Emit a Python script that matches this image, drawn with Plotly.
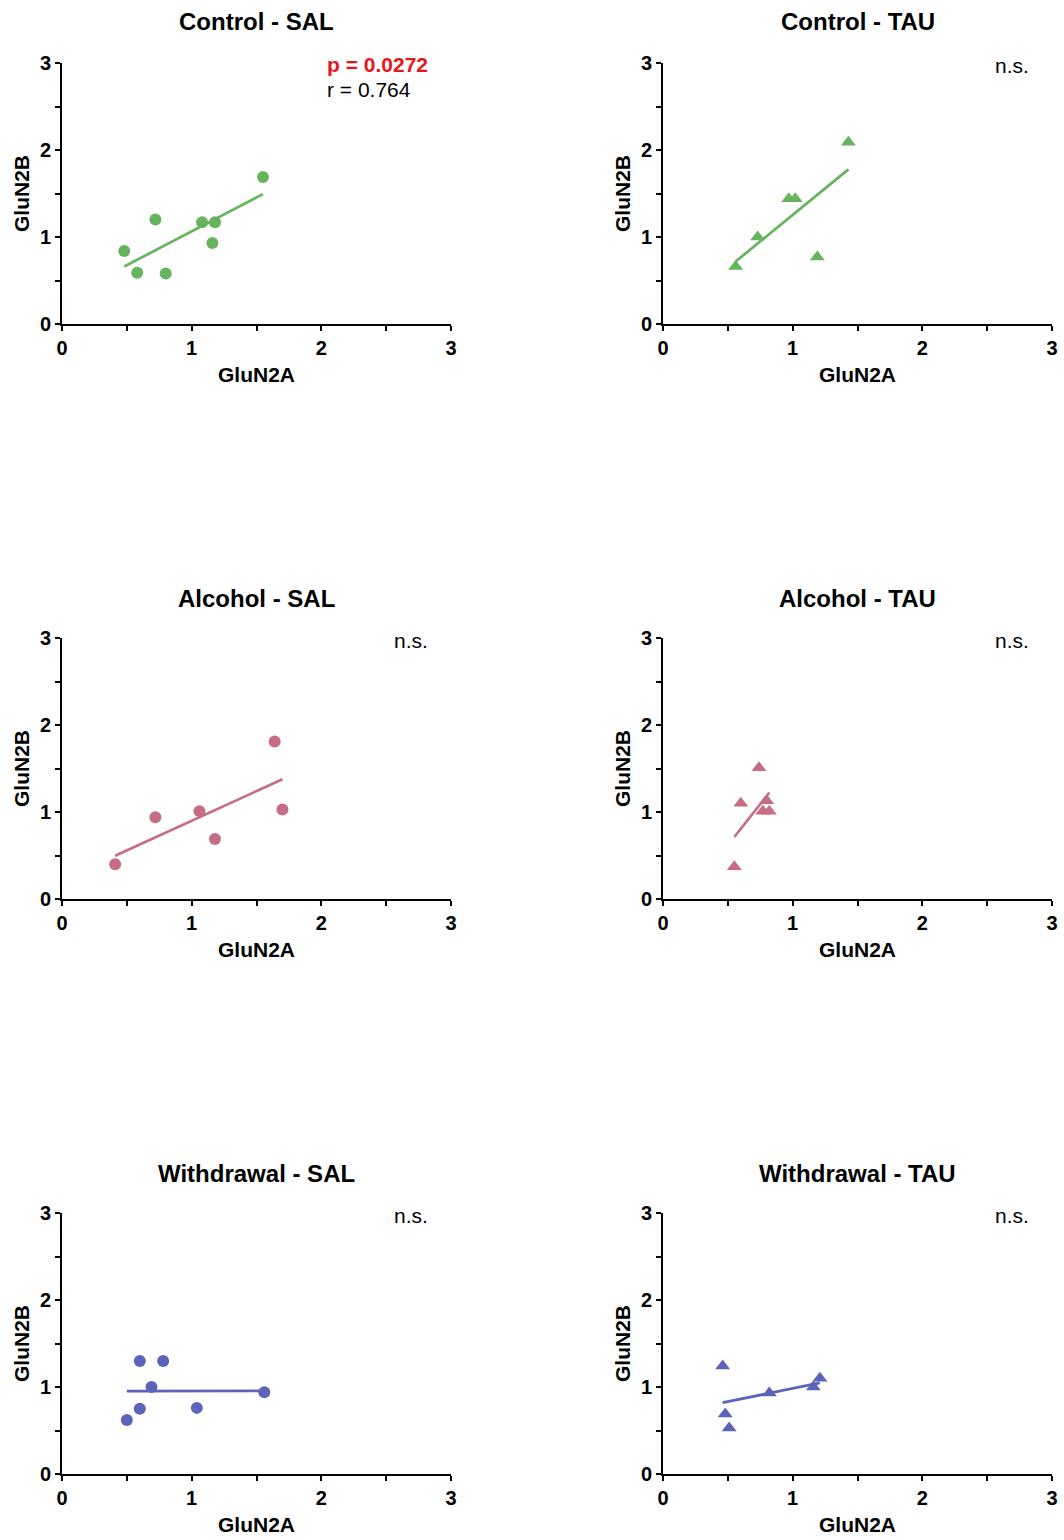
import numpy as np
import plotly.graph_objects as go

# ---------------- data ----------------
panel_titles = ["Control - SAL", "Control - TAU", "Alcohol - SAL",
                "Alcohol - TAU", "Withdrawal - SAL", "Withdrawal - TAU"]

ctrl_sal_x = [0.48, 0.58, 0.72, 0.80, 1.08, 1.16, 1.18, 1.55]
ctrl_sal_y = [0.84, 0.59, 1.20, 0.58, 1.17, 0.93, 1.17, 1.69]

ctrl_tau_x = [0.56, 0.73, 0.97, 1.02, 1.19, 1.43]
ctrl_tau_y = [0.66, 1.00, 1.44, 1.44, 0.77, 2.09]

alc_sal_x = [0.41, 0.72, 1.06, 1.18, 1.64, 1.70]
alc_sal_y = [0.40, 0.94, 1.01, 0.69, 1.81, 1.03]

alc_tau_x = [0.55, 0.60, 0.74, 0.77, 0.80, 0.82]
alc_tau_y = [0.37, 1.10, 1.51, 1.01, 1.13, 1.01]

wd_sal_x = [0.50, 0.60, 0.60, 0.69, 0.78, 1.04, 1.56]
wd_sal_y = [0.62, 0.75, 1.30, 1.00, 1.30, 0.76, 0.94]

wd_tau_x = [0.46, 0.48, 0.51, 0.82, 1.16, 1.21]
wd_tau_y = [1.24, 0.69, 0.53, 0.93, 1.00, 1.10]

stats_p = ["p = 0.0272", "n.s.", "n.s.", "n.s.", "n.s.", "n.s."]
stats_r = ["r = 0.764", "", "", "", "", ""]

x_label = "GluN2A"
y_label = "GluN2B"
tick_vals = [0, 1, 2, 3]
tick_text = ["0", "1", "2", "3"]

# ---------------- styling ----------------
GREEN = "#66b45e"
PINK = "#c56d84"
BLUE = "#5c63b8"
FONT = "Liberation Sans, Arial, sans-serif"

panels = [
    (ctrl_sal_x, ctrl_sal_y, GREEN, "circle"),
    (ctrl_tau_x, ctrl_tau_y, GREEN, "triangle-up"),
    (alc_sal_x, alc_sal_y, PINK, "circle"),
    (alc_tau_x, alc_tau_y, PINK, "triangle-up"),
    (wd_sal_x, wd_sal_y, BLUE, "circle"),
    (wd_tau_x, wd_tau_y, BLUE, "triangle-up"),
]

W, H = 1064, 1540
col_px = [(62, 451), (663, 1052)]
row_px = [(63, 324), (638, 899), (1213, 1474)]
title_y_px = [22, 598, 1173]

fig = go.Figure()
layout = dict(
    width=W, height=H,
    margin=dict(l=0, r=0, t=0, b=0, autoexpand=False),
    paper_bgcolor="white", plot_bgcolor="white",
    showlegend=False,
    font=dict(family=FONT, color="black"),
)
annotations = []

for i, (xs, ys, color, symbol) in enumerate(panels):
    r, c = divmod(i, 2)
    n = i + 1
    xa = "x" if n == 1 else f"x{n}"
    ya = "y" if n == 1 else f"y{n}"
    # scatter points
    fig.add_trace(go.Scatter(
        x=xs, y=ys, mode="markers", xaxis=xa, yaxis=ya,
        marker=dict(symbol=symbol, size=12 if symbol == "circle" else 13,
                    color=color, line=dict(width=0)),
    ))
    # linear regression line
    slope, intercept = np.polyfit(xs, ys, 1)
    lx = np.array([min(xs), max(xs)])
    fig.add_trace(go.Scatter(
        x=lx, y=slope * lx + intercept, mode="lines", xaxis=xa, yaxis=ya,
        line=dict(color=color, width=2.7),
    ))

    x0, x1 = col_px[c]
    y0, y1 = row_px[r]
    common = dict(
        range=[0, 3], tickmode="array", tickvals=tick_vals, ticktext=tick_text,
        showline=True, linecolor="black", linewidth=2,
        ticks="outside", ticklen=5, tickwidth=2, tickcolor="black",
        showgrid=False, zeroline=False, automargin=False,
        tickfont=dict(family=FONT, size=20, color="black", weight="bold"),
        minor=dict(tickvals=[0.5, 1.5, 2.5], ticks="outside", ticklen=5,
                   tickwidth=2, tickcolor="black", showgrid=False),
    )
    layout["xaxis" if n == 1 else f"xaxis{n}"] = dict(
        common, domain=[x0 / W, x1 / W], anchor=ya,
        title=dict(text=x_label, standoff=9,
                   font=dict(family=FONT, size=21, color="black", weight="bold")),
    )
    layout["yaxis" if n == 1 else f"yaxis{n}"] = dict(
        common, domain=[1 - y1 / H, 1 - y0 / H], anchor=xa,
        title=dict(text=y_label, standoff=5,
                   font=dict(family=FONT, size=21, color="black", weight="bold")),
    )
    # panel title
    annotations.append(dict(
        text=f"<b>{panel_titles[i]}</b>", xref="paper", yref="paper",
        x=(x0 + x1) / 2 / W, y=1 - title_y_px[r] / H,
        xanchor="center", yanchor="middle", showarrow=False,
        font=dict(family=FONT, size=24, color="black"),
    ))
    # stats text
    if stats_r[i]:
        annotations.append(dict(
            text=f"<b>{stats_p[i]}</b>", xref=xa, yref=ya, x=2.03, y=2.98,
            xanchor="left", yanchor="middle", showarrow=False,
            font=dict(family=FONT, size=21, color="#e8161b"),
        ))
        annotations.append(dict(
            text=stats_r[i], xref=xa, yref=ya, x=2.03, y=2.69,
            xanchor="left", yanchor="middle", showarrow=False,
            font=dict(family=FONT, size=21, color="black"),
        ))
    else:
        annotations.append(dict(
            text=stats_p[i], xref=xa, yref=ya, x=2.84, y=2.97,
            xanchor="right", yanchor="middle", showarrow=False,
            font=dict(family=FONT, size=21, color="black"),
        ))

layout["annotations"] = annotations
fig.update_layout(**layout)
fig.write_html("out.html")
